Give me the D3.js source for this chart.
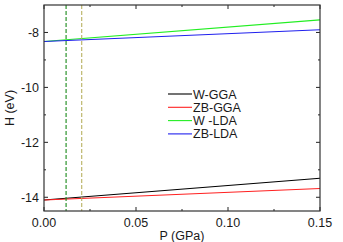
<!DOCTYPE html>
<html><head><meta charset="utf-8">
<script src="https://cdn.jsdelivr.net/npm/d3@7"></script>
<style>body{margin:0;background:#fff}text{font-family:"Liberation Sans",Arial,sans-serif;fill:#1a1a1a}</style>
</head><body><svg id="c" width="343" height="242"></svg>
<script>
const pressures = [0.0, 0.15];
const seriesNames = ["W-GGA", "ZB-GGA", "W -LDA", "ZB-LDA"];
const seriesColors = ["#000000", "#ff2020", "#22ee22", "#2020ee"];
const wGGA = [-14.10, -13.31];
const zbGGA = [-14.10, -13.68];
const wLDA = [-8.33, -7.54];
const zbLDA = [-8.33, -7.90];
const dashedP = [0.012, 0.0205];
const dashedColors = ["#1a8a1a", "#b8b060"];
const xTicks = [0.00, 0.05, 0.10, 0.15];
const yTicks = [-8, -10, -12, -14];

const svg = d3.select("#c");
const L = 44, R = 320, T = 5, B = 211;
const x = d3.scaleLinear().domain([0, 0.15]).range([L, R]);
const y = d3.scaleLinear().domain([-14.5, -7]).range([B, T]);

const series = [wGGA, zbGGA, wLDA, zbLDA];
const line = d3.line().x((d, i) => x(pressures[i])).y(d => y(d));
[2,3,0,1].forEach(k => {
  svg.append("path").attr("d", line(series[k])).attr("fill", "none")
    .attr("stroke", seriesColors[k]).attr("stroke-width", 1.1);
});
dashedP.forEach((p, i) => {
  svg.append("line").attr("x1", x(p)).attr("x2", x(p)).attr("y1", T).attr("y2", B)
    .attr("stroke", dashedColors[i]).attr("stroke-width", 1.1).attr("stroke-dasharray", "4,2");
});

const xMinor = d3.range(0.025, 0.15, 0.05);
const yMinor = [-9, -11, -13];
const g = svg.append("g").attr("stroke", "#222").attr("stroke-width", 1);
xTicks.forEach(t => {
  g.append("line").attr("x1", x(t)).attr("x2", x(t)).attr("y1", B).attr("y2", B - 4);
  g.append("line").attr("x1", x(t)).attr("x2", x(t)).attr("y1", T).attr("y2", T + 4);
});
xMinor.forEach(t => {
  g.append("line").attr("x1", x(t)).attr("x2", x(t)).attr("y1", B).attr("y2", B - 2);
  g.append("line").attr("x1", x(t)).attr("x2", x(t)).attr("y1", T).attr("y2", T + 2);
});
yTicks.forEach(t => {
  g.append("line").attr("x1", L).attr("x2", L + 4).attr("y1", y(t)).attr("y2", y(t));
  g.append("line").attr("x1", R).attr("x2", R - 4).attr("y1", y(t)).attr("y2", y(t));
});
yMinor.forEach(t => {
  g.append("line").attr("x1", L).attr("x2", L + 2).attr("y1", y(t)).attr("y2", y(t));
  g.append("line").attr("x1", R).attr("x2", R - 2).attr("y1", y(t)).attr("y2", y(t));
});
svg.append("rect").attr("x", L).attr("y", T).attr("width", R - L).attr("height", B - T)
  .attr("fill", "none").attr("stroke", "#333").attr("stroke-width", 1.2);

xTicks.forEach(t => {
  svg.append("text").attr("x", x(t)).attr("y", 227).attr("text-anchor", "middle")
    .attr("font-size", 12.5).text(d3.format(".2f")(t));
});
yTicks.forEach(t => {
  svg.append("text").attr("x", 39).attr("y", y(t) + 4.5).attr("text-anchor", "end")
    .attr("font-size", 12.5).text(t);
});
svg.append("text").attr("x", 182).attr("y", 240).attr("text-anchor", "middle")
  .attr("font-size", 12.5).text("P (GPa)");
svg.append("text").attr("transform", "translate(14,108) rotate(-90)").attr("text-anchor", "middle")
  .attr("font-size", 12.5).text("H (eV)");

seriesNames.forEach((n, i) => {
  const yy = 94 + i * 13.3;
  svg.append("line").attr("x1", 168).attr("x2", 192).attr("y1", yy).attr("y2", yy)
    .attr("stroke", seriesColors[i]).attr("stroke-width", 1.1);
  svg.append("text").attr("x", 193).attr("y", yy + 4.5).attr("font-size", 12.5).text(n);
});
</script></body></html>
